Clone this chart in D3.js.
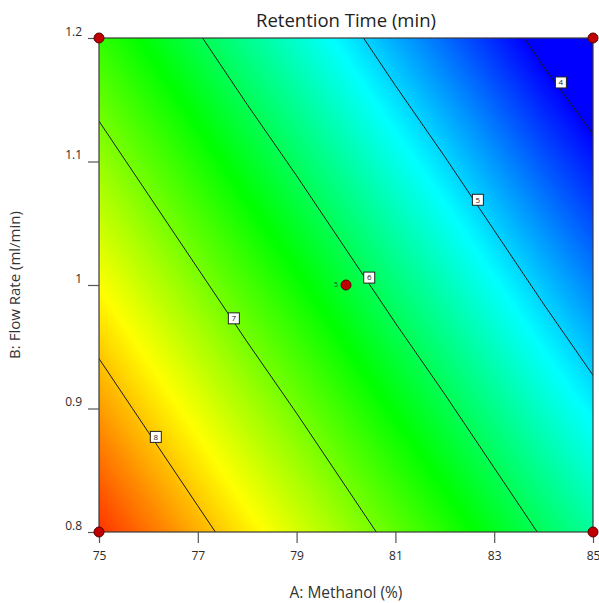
<!DOCTYPE html>
<html>
<head>
<meta charset="utf-8">
<script src="https://d3js.org/d3.v7.min.js"></script>
<style>
  body { margin: 0; background: #fff; }
  text { font-family: "Open Sans", "Noto Sans", sans-serif; }
</style>
</head>
<body>
<svg id="chart" width="599" height="603"></svg>
<script>
// grid of predicted retention time, columns = methanol %, rows = flow rate
var methanol = [75, 76, 77, 78, 79, 80, 81, 82, 83, 84, 85]
var flowRate = [0.8, 0.9, 1.0, 1.1, 1.2]
var rtGrid = [
  [8.73, 8.42, 8.11, 7.80, 7.50, 7.19, 6.88, 6.58, 6.27, 5.96, 5.66],
  [8.21, 7.90, 7.59, 7.28, 6.98, 6.67, 6.36, 6.06, 5.75, 5.44, 5.14],
  [7.69, 7.38, 7.07, 6.76, 6.46, 6.15, 5.84, 5.54, 5.23, 4.92, 4.62],
  [7.17, 6.86, 6.55, 6.24, 5.94, 5.63, 5.32, 5.02, 4.71, 4.40, 4.12],
  [6.65, 6.34, 6.03, 5.72, 5.42, 5.11, 4.80, 4.50, 4.19, 3.88, 3.58]
]
var xTicks = [75, 77, 79, 81, 83, 85]
var yTicks = [0.8, 0.9, 1, 1.1, 1.2]
var contourLevels = [4, 5, 6, 7, 8]
// contour label spots
var labelA = [84.35, 82.67, 80.47, 77.73, 76.15]
var labelB = [1.164, 1.069, 1.006, 0.973, 0.877]
var labelText = ["4", "5", "6", "7", "8"]
// design points
var pointA = [75, 85, 75, 85, 80]
var pointB = [0.8, 0.8, 1.2, 1.2, 1.0]
var pointReps = [1, 1, 1, 1, 5]

var svg = d3.select("#chart")
var x = d3.scaleLinear().domain([75, 85]).range([99, 593])
var y = d3.scaleLinear().domain([0.8, 1.2]).range([532, 38])

var nx = methanol.length, ny = flowRate.length
var values = []
rtGrid.forEach(function(row){ row.forEach(function(v){ values.push(v) }) })

// grid coords -> pixels (d3.contours puts value i at i+0.5)
var gx = d3.scaleLinear().domain([0.5, nx - 0.5]).range([x(methanol[0]), x(methanol[nx-1])])
var gy = d3.scaleLinear().domain([0.5, ny - 0.5]).range([y(flowRate[0]), y(flowRate[ny-1])])
var proj = d3.geoTransform({point: function(px, py){ this.stream.point(gx(px), gy(py)) }})
var path = d3.geoPath(proj)

var color = d3.scaleLinear()
  .domain([4.0, 5.2, 6.4, 7.7, 9.0])
  .range(["#0000ff", "#00ffff", "#00ff00", "#ffff00", "#ff0000"])
  .clamp(true)

svg.append("clipPath").attr("id", "plotclip")
  .append("rect").attr("x", x(75)).attr("y", y(1.2))
  .attr("width", x(85) - x(75)).attr("height", y(0.8) - y(1.2))

var plot = svg.append("g").attr("clip-path", "url(#plotclip)")

plot.append("rect").attr("x", x(75)).attr("y", y(1.2))
  .attr("width", x(85) - x(75)).attr("height", y(0.8) - y(1.2))
  .attr("fill", color(3.5))

var bands = d3.range(3.5, 8.8, 0.02)
var fills = d3.contours().size([nx, ny]).thresholds(bands)(values)
plot.selectAll("path.band").data(fills).enter().append("path")
  .attr("class", "band")
  .attr("d", path)
  .attr("fill", function(d){ return color(d.value + 0.01) })
  .attr("stroke", function(d){ return color(d.value + 0.01) })
  .attr("stroke-width", 0.3)

var lines = d3.contours().size([nx, ny]).thresholds(contourLevels)(values)
plot.selectAll("path.level").data(lines).enter().append("path")
  .attr("class", "level")
  .attr("d", path)
  .attr("fill", "none")
  .attr("stroke", "#1a1a1a")
  .attr("stroke-width", 1)

// frame
svg.append("rect").attr("x", x(75)).attr("y", y(1.2))
  .attr("width", x(85) - x(75)).attr("height", y(0.8) - y(1.2))
  .attr("fill", "none").attr("stroke", "#3a3a3a").attr("stroke-width", 1.2)

// axes
var xAxis = svg.append("g").attr("transform", "translate(0," + y(0.8) + ")")
  .call(d3.axisBottom(x).tickValues(xTicks).tickSize(11).tickPadding(8).tickFormat(d3.format("d")))
var yAxis = svg.append("g").attr("transform", "translate(" + x(75) + ",0)")
  .call(d3.axisLeft(y).tickValues(yTicks).tickSize(11).tickPadding(6).tickFormat(function(d){ return String(d) }))
xAxis.select(".domain").remove()
yAxis.select(".domain").remove()
svg.selectAll(".tick line").attr("stroke", "#555").attr("stroke-width", 1.2)
svg.selectAll(".tick text").attr("fill", "#2a2a2a").style("font-size", "12px")
  .style("font-family", "'Open Sans', 'Noto Sans', sans-serif")
yAxis.selectAll(".tick text").attr("dy", "-0.25em")

// contour labels
var lab = svg.selectAll("g.clabel").data(labelText).enter().append("g")
  .attr("class", "clabel")
  .attr("transform", function(d, i){ return "translate(" + x(labelA[i]) + "," + y(labelB[i]) + ")" })
lab.append("rect").attr("x", -5.5).attr("y", -5.5).attr("width", 11).attr("height", 11)
  .attr("fill", "#fff").attr("stroke", "#222").attr("stroke-width", 1)
lab.append("text").attr("text-anchor", "middle").attr("dy", "0.35em")
  .style("font-size", "8px").attr("fill", "#222").text(function(d){ return d })

// design points
svg.selectAll("circle.pt").data(pointA).enter().append("circle")
  .attr("class", "pt")
  .attr("cx", function(d){ return x(d) })
  .attr("cy", function(d, i){ return y(pointB[i]) })
  .attr("r", 5)
  .attr("fill", "#c00000").attr("stroke", "#5a0000").attr("stroke-width", 1)
svg.selectAll("text.rep").data(pointA.filter(function(d, i){ return pointReps[i] > 1 })).enter().append("text")
  .attr("class", "rep")
  .attr("x", function(d){ return x(d) - 8 })
  .attr("y", function(d){ return y(pointB[pointA.indexOf(d)]) })
  .attr("dy", "0.35em").attr("text-anchor", "end")
  .style("font-size", "7px").attr("fill", "#333")
  .text(function(d){ return pointReps[pointA.indexOf(d)] })

// titles
svg.append("text").attr("x", 346).attr("y", 27).attr("text-anchor", "middle")
  .style("font-size", "18.5px").attr("fill", "#222").text("Retention Time (min)")
svg.append("text").attr("x", 346).attr("y", 598).attr("text-anchor", "middle")
  .style("font-size", "15.5px").attr("fill", "#333").text("A: Methanol (%)")
svg.append("text").attr("transform", "translate(20,285) rotate(-90)").attr("text-anchor", "middle")
  .style("font-size", "15px").attr("fill", "#333").text("B: Flow Rate (ml/min)")
</script>
</body>
</html>
